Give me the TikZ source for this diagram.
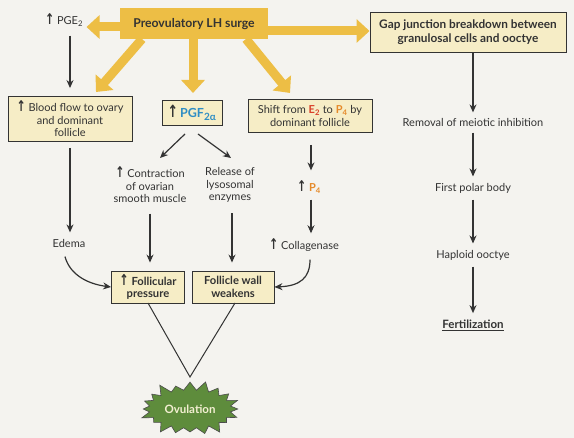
\documentclass[tikz,border=0pt]{standalone}
\usepackage{fontspec}
\setmainfont{Lato}
\newfontfamily\arrfont{DejaVu Sans}
\usetikzlibrary{arrows.meta,shapes.symbols}
\definecolor{lh}{HTML}{EDBE45}
\definecolor{boxfill}{HTML}{F6EDC6}
\definecolor{bg}{HTML}{F4F3EF}
\definecolor{ink}{HTML}{333333}
\definecolor{pgf}{HTML}{2F8DC4}
\definecolor{estr}{HTML}{D9402A}
\definecolor{prog}{HTML}{E58A2A}
\definecolor{ovgreen}{HTML}{5E8C3C}
\definecolor{ovtext}{HTML}{F3EFD2}
\newcommand{\upar}{\raisebox{-0.5pt}{\scalebox{1}[1.35]{\arrfont\bfseries ↑}}}
\begin{document}
\begin{tikzpicture}[x=1pt,y=-1pt,
  every node/.style={font=\fontsize{11}{12.8}\selectfont, text=ink},
  lhbox/.style={fill=lh, minimum width=148pt, minimum height=31pt, font=\fontsize{12.2}{14}\selectfont\bfseries, text=black!80},
  fbox/.style={draw=ink, fill=boxfill, line width=0.9pt, align=center, inner sep=1.5pt},
  lbl/.style={align=center},
  arr/.style={-{Stealth[length=8pt,width=7pt]}, line width=1.2pt, draw=ink},
  bigarr/.style={-{Triangle[length=13pt,width=23pt]}, line width=9pt, draw=lh},
  burst/.style={starburst, starburst points=20, starburst point height=11pt, fill=ovgreen, draw=black!70, line width=0.6pt, minimum width=104pt, minimum height=60pt, inner sep=0pt, font=\fontsize{11.5}{13}\selectfont\bfseries, text=ovtext}
]
\fill[bg] (0,0) rectangle (574,438);
\useasboundingbox (0,0) rectangle (574,438);

% top nodes
\node[lhbox] (lh) at (194,24) {Preovulatory LH surge};
\node[fbox, minimum width=196pt, minimum height=40pt, font=\fontsize{11.8}{13.5}\selectfont\bfseries] (gap) at (468,32) {Gap junction breakdown between\\granulosal cells and ooctye};
\node[lbl] (pge) at (64,20) {\upar\ PGE\textsubscript{2}};

% second row boxes
\node[fbox, minimum width=124pt, minimum height=45pt] (blood) at (70,119) {\upar\ Blood flow to ovary\\and dominant\\follicle};
\node[fbox, minimum width=60pt, minimum height=25pt, font=\fontsize{12.5}{14}\selectfont\bfseries] (pgfbox) at (192,113) {\upar\,\textcolor{pgf}{PGF\textsubscript{\fontsize{10}{10}\selectfont 2α}}};
\node[fbox, minimum width=124pt, minimum height=33pt] (shift) at (310,116) {Shift from \textbf{\textcolor{estr}{E\textsubscript{2}}} to \textbf{\textcolor{prog}{P\textsubscript{4}}} by\\dominant follicle};

% big yellow arrows
\coordinate (t1) at (96,92);
\coordinate (t2) at (193,93);
\coordinate (t3) at (290,93);
\coordinate (s1) at (142,39);
\coordinate (s2) at (193,39);
\coordinate (s3) at (246,39);
\draw[bigarr] (lh.west |- 0,27) -- (pge.east |- 0,27);
\draw[bigarr] (lh.east |- 0,31) -- (gap.west |- 0,31);
\draw[bigarr] (s1) -- (t1);
\draw[bigarr] (s2) -- (t2);
\draw[bigarr] (s3) -- (t3);

% PGE2 arrow
\draw[arr, shorten <=6pt, shorten >=8pt] (pge.south -| 70,0) -- (blood.north -| 70,0);

% middle labels
\node[lbl] (contr) at (150,185) {\upar\ Contraction\\of ovarian\\smooth muscle};
\node[lbl] (rel) at (230,185) {Release of\\lysosomal\\enzymes};
\node[lbl] (edema) at (69,243) {Edema};
\node[lbl] (p4) at (309,187) {\upar\ \textbf{\textcolor{prog}{P\textsubscript{4}}}};
\node[lbl] (coll) at (304,245) {\upar\ Collagenase};

\draw[arr] (185,134) -- (160,158);
\draw[arr] (198,134) -- (231,158);
\draw[arr, shorten <=6pt, shorten >=3pt] (blood.south -| 70,0) -- (edema.north -| 70,0);
\draw[arr, shorten <=12pt, shorten >=7pt] (shift.south -| 311,0) -- (p4.north -| 311,0);
\draw[arr, shorten <=3pt, shorten >=2pt] (p4.south -| 311,0) -- (coll.north -| 311,0);

% bottom boxes
\node[fbox, minimum width=73pt, minimum height=32pt, font=\fontsize{11.2}{12.5}\selectfont\bfseries] (foll) at (148,287) {\upar\ Follicular\\pressure};
\node[fbox, minimum width=82pt, minimum height=32pt, font=\fontsize{11.2}{12.5}\selectfont\bfseries] (wall) at (233,287) {Follicle wall\\weakens};

\draw[arr, shorten <=7pt, shorten >=8pt] (contr.south -| 150,0) -- (foll.north -| 150,0);
\draw[arr, shorten <=7pt, shorten >=8pt] (rel.south -| 232,0) -- (wall.north -| 232,0);
\draw[arr] (edema.south) ++(-4,6) .. controls (70,275) and (88,284) .. (foll.west);
\draw[arr] (coll.south -| 310,0) ++(0,5) .. controls (310,278) and (300,286) .. (wall.east);

% ovulation
\node[burst] (ov) at (190,409) {Ovulation};
\coordinate (apex) at (190,377);
\draw[line width=1pt, draw=ink] (148,303) -- (apex) -- (235,303);

% right column
\node[lbl] (rem) at (473,122) {Removal of meiotic inhibition};
\node[lbl] (polar) at (473,188) {First polar body};
\node[lbl] (hap) at (473,255) {Haploid ooctye};
\node[lbl, font=\fontsize{11.5}{13}\selectfont\bfseries] (fert) at (473,325) {\underline{Fertilization}};
\draw[arr, shorten >=2pt] (gap.south -| 473,0) -- (rem.north -| 473,0);
\draw[arr, shorten <=3pt, shorten >=3pt] (rem.south -| 473,0) -- (polar.north -| 473,0);
\draw[arr, shorten <=3pt, shorten >=3pt] (polar.south -| 473,0) -- (hap.north -| 473,0);
\draw[arr, shorten <=3pt, shorten >=3pt] (hap.south -| 473,0) -- (fert.north -| 473,0);
\end{tikzpicture}
\end{document}
